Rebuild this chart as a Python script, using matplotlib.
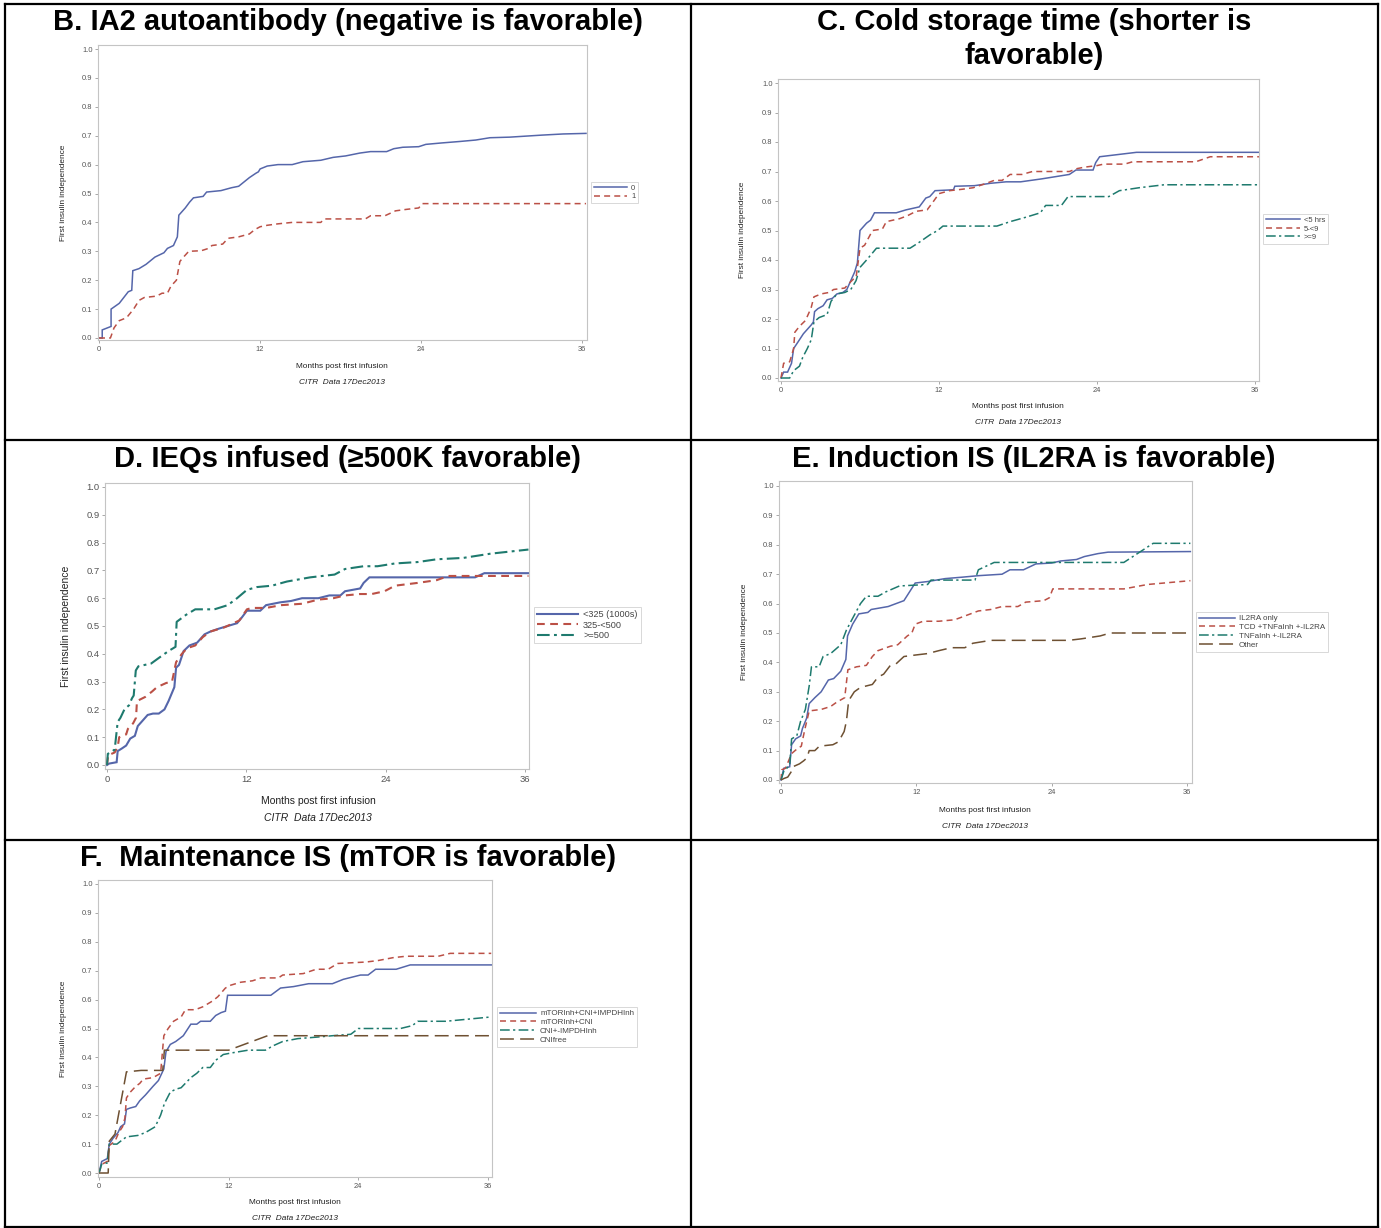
import matplotlib
matplotlib.use("Agg")
import matplotlib.pyplot as plt
from matplotlib.lines import Line2D

plt.rcParams['font.family'] = ['Liberation Sans', 'DejaVu Sans']
plt.rcParams['lines.scale_dashes'] = False

W, H = 1381, 1228

# ---------------- data (months, cumulative probability) ----------------
x_ticks = [0, 12, 24, 36]
y_ticks = [0.0, 0.1, 0.2, 0.3, 0.4, 0.5, 0.6, 0.7, 0.8, 0.9, 1.0]

# Panel B: IA2 autoantibody
b_labels = ["0", "1"]
b_neg = [(0, 0), (0.24, 0), (0.24, 0.028), (0.90, 0.04), (0.90, 0.10), (1.51, 0.12), (2.18, 0.16), (2.44, 0.165),
         (2.52, 0.233), (2.98, 0.24), (3.51, 0.255), (4.17, 0.28), (4.84, 0.295), (5.10, 0.31), (5.55, 0.32),
         (5.84, 0.35), (5.95, 0.425), (6.43, 0.45), (6.75, 0.47), (7.04, 0.485), (7.76, 0.49), (8.02, 0.505),
         (9.09, 0.51), (9.88, 0.52), (10.41, 0.525), (10.81, 0.54), (11.21, 0.555), (11.69, 0.57), (11.88, 0.575),
         (12.01, 0.585), (12.54, 0.595), (13.34, 0.60), (14.40, 0.60), (15.20, 0.61), (16.53, 0.615), (17.45, 0.625),
         (18.38, 0.63), (19.45, 0.64), (20.24, 0.645), (21.44, 0.645), (21.97, 0.655), (22.64, 0.66), (23.83, 0.662),
         (24.36, 0.67), (25.56, 0.675), (26.89, 0.68), (28.08, 0.685), (29.14, 0.693), (30.61, 0.695), (33.0, 0.702),
         (34.59, 0.706), (36.3, 0.708)]
b_pos = [(0, 0), (0.85, 0), (1.12, 0.035), (1.51, 0.06), (2.05, 0.07), (2.58, 0.10), (2.98, 0.13), (3.37, 0.14),
         (4.30, 0.145), (4.70, 0.155), (5.10, 0.155), (5.37, 0.18), (5.77, 0.20), (6.03, 0.265), (6.30, 0.28),
         (6.69, 0.30), (7.62, 0.302), (8.16, 0.31), (8.42, 0.32), (9.22, 0.325), (9.62, 0.345), (10.41, 0.35),
         (11.21, 0.36), (11.61, 0.375), (12.01, 0.385), (12.54, 0.39), (13.34, 0.395), (14.40, 0.40), (16.53, 0.40),
         (16.79, 0.412), (19.85, 0.412), (20.24, 0.423), (21.31, 0.423), (22.10, 0.44), (22.90, 0.445),
         (23.83, 0.45), (24.10, 0.465), (36.3, 0.465)]

# Panel C: cold storage time
c_labels = ["<5 hrs", "5-<9", ">=9"]
c_lt5 = [(0, 0), (0.2, 0.02), (0.5, 0.02), (0.8, 0.05), (0.96, 0.10), (1.26, 0.12), (1.7, 0.15), (2.3, 0.18),
         (2.46, 0.19), (2.55, 0.225), (2.8, 0.235), (3.2, 0.245), (3.5, 0.265), (3.9, 0.27), (4.25, 0.285),
         (4.7, 0.29), (5.0, 0.30), (5.3, 0.33), (5.6, 0.36), (5.8, 0.39), (6.0, 0.50), (6.2, 0.51), (6.5, 0.525),
         (6.8, 0.535), (7.1, 0.56), (8.75, 0.56), (9.5, 0.57), (10.5, 0.58), (11.0, 0.61), (11.3, 0.615),
         (11.7, 0.635), (13.1, 0.638), (13.2, 0.65), (14.7, 0.652), (15.9, 0.66), (17.1, 0.665), (18.2, 0.665),
         (19.8, 0.675), (21.9, 0.69), (22.4, 0.705), (23.7, 0.705), (23.9, 0.73), (24.2, 0.75), (27.0, 0.765),
         (36.3, 0.765)]
c_5to9 = [(0, 0), (0.2, 0.05), (0.66, 0.055), (0.96, 0.10), (1.05, 0.155), (1.4, 0.175), (1.86, 0.195),
          (2.16, 0.225), (2.3, 0.24), (2.5, 0.275), (3.05, 0.285), (3.65, 0.29), (4.0, 0.30), (4.85, 0.305),
          (5.15, 0.32), (5.5, 0.335), (5.7, 0.34), (6.0, 0.44), (6.35, 0.45), (6.65, 0.475), (6.95, 0.50),
          (7.7, 0.505), (8.0, 0.53), (9.0, 0.54), (9.6, 0.55), (10.25, 0.565), (11.1, 0.57), (11.6, 0.60),
          (12.0, 0.625), (12.8, 0.635), (13.8, 0.64), (14.6, 0.645), (15.6, 0.66), (16.2, 0.67), (16.8, 0.67),
          (17.4, 0.69), (18.3, 0.69), (19.1, 0.70), (21.9, 0.70), (22.5, 0.71), (23.1, 0.715), (24.0, 0.72),
          (24.5, 0.725), (26.1, 0.725), (26.7, 0.733), (31.5, 0.733), (32.6, 0.75), (36.3, 0.75)]
c_ge9 = [(0, 0), (0.66, 0), (0.96, 0.025), (1.4, 0.04), (1.65, 0.07), (2.0, 0.10), (2.3, 0.13), (2.5, 0.19),
         (2.9, 0.205), (3.5, 0.215), (3.8, 0.26), (4.25, 0.285), (4.85, 0.29), (5.3, 0.30), (5.7, 0.33),
         (6.0, 0.375), (6.5, 0.40), (7.25, 0.44), (9.8, 0.44), (10.5, 0.46), (11.3, 0.485), (11.9, 0.50),
         (12.3, 0.515), (16.4, 0.515), (17.4, 0.53), (18.6, 0.545), (19.7, 0.56), (20.1, 0.585), (21.3, 0.585),
         (21.8, 0.615), (24.9, 0.615), (25.7, 0.635), (27.2, 0.645), (29.1, 0.655), (36.3, 0.655)]

# Panel D: IEQs infused
d_labels = ["<325 (1000s)", "325-<500", ">=500"]
d_lt325 = [(0, 0), (0.17, 0.005), (0.83, 0.01), (0.92, 0.05), (1.3, 0.06), (1.65, 0.07), (2.0, 0.095),
           (2.4, 0.105), (2.65, 0.14), (2.97, 0.155), (3.5, 0.18), (3.96, 0.185), (4.46, 0.185), (4.95, 0.20),
           (5.3, 0.23), (5.8, 0.28), (5.95, 0.35), (6.2, 0.36), (6.6, 0.41), (7.1, 0.43), (7.76, 0.44),
           (8.4, 0.47), (8.9, 0.48), (9.6, 0.49), (10.4, 0.50), (11.2, 0.51), (11.6, 0.53), (12.05, 0.555),
           (13.2, 0.555), (13.7, 0.575), (14.9, 0.585), (15.85, 0.59), (16.8, 0.60), (18.2, 0.60), (19.15, 0.61),
           (20.1, 0.61), (20.5, 0.625), (21.8, 0.635), (22.1, 0.655), (22.6, 0.675), (31.7, 0.675), (32.5, 0.69),
           (36.3, 0.69)]
d_325to500 = [(0, 0), (0.1, 0.035), (0.66, 0.045), (0.92, 0.065), (1.05, 0.10), (1.65, 0.11), (1.8, 0.13),
              (2.25, 0.15), (2.5, 0.17), (2.58, 0.23), (3.3, 0.245), (3.9, 0.265), (4.3, 0.28), (5.1, 0.295),
              (5.6, 0.30), (5.95, 0.37), (6.45, 0.40), (6.9, 0.42), (7.6, 0.43), (8.25, 0.46), (8.9, 0.48),
              (10.1, 0.495), (11.4, 0.52), (12.05, 0.56), (12.5, 0.565), (13.7, 0.565), (15.0, 0.575),
              (16.8, 0.58), (18.2, 0.595), (19.5, 0.60), (20.5, 0.61), (21.8, 0.615), (22.8, 0.615),
              (23.9, 0.625), (24.8, 0.645), (26.75, 0.655), (28.4, 0.665), (29.4, 0.68), (36.3, 0.68)]
d_ge500 = [(0, 0), (0.07, 0.04), (0.66, 0.055), (0.92, 0.155), (1.16, 0.17), (1.5, 0.20), (1.9, 0.215),
           (2.15, 0.24), (2.3, 0.25), (2.48, 0.34), (2.7, 0.355), (3.8, 0.365), (4.46, 0.385), (5.3, 0.41),
           (5.9, 0.425), (6.0, 0.515), (6.8, 0.54), (7.6, 0.56), (9.25, 0.56), (10.4, 0.575), (11.2, 0.60),
           (12.05, 0.63), (12.9, 0.64), (14.2, 0.645), (15.5, 0.66), (17.5, 0.675), (19.6, 0.685), (20.5, 0.705),
           (22.1, 0.715), (23.3, 0.715), (24.8, 0.725), (26.75, 0.73), (28.4, 0.74), (30.7, 0.745), (33.0, 0.76),
           (36.3, 0.775)]

# Panel E: induction IS
e_labels = ["IL2RA only", "TCD +TNFaInh +-IL2RA", "TNFaInh +-IL2RA", "Other"]
e_il2ra = [(0, 0), (0.25, 0.04), (0.77, 0.045), (0.94, 0.12), (1.3, 0.14), (1.74, 0.15), (1.9, 0.175),
           (2.27, 0.21), (2.5, 0.26), (3.0, 0.28), (3.56, 0.30), (4.2, 0.34), (4.67, 0.345), (5.3, 0.37),
           (5.75, 0.41), (5.9, 0.49), (6.35, 0.53), (6.9, 0.565), (7.7, 0.57), (8.0, 0.58), (9.5, 0.59),
           (10.9, 0.61), (11.4, 0.64), (11.9, 0.67), (13.0, 0.675), (14.55, 0.685), (16.1, 0.69), (17.5, 0.695),
           (19.6, 0.70), (20.3, 0.715), (21.5, 0.715), (22.6, 0.735), (24.0, 0.738), (24.8, 0.745), (26.2, 0.75),
           (26.9, 0.76), (28.1, 0.77), (29.0, 0.775), (36.3, 0.777)]
e_tcd = [(0, 0), (0.07, 0.035), (0.4, 0.04), (0.94, 0.09), (1.4, 0.105), (1.8, 0.115), (2.1, 0.17), (2.5, 0.235),
         (3.56, 0.24), (4.4, 0.25), (4.95, 0.265), (5.65, 0.28), (5.93, 0.375), (6.7, 0.385), (7.57, 0.39),
         (8.1, 0.42), (8.6, 0.44), (9.7, 0.455), (10.35, 0.46), (11.2, 0.49), (11.6, 0.50), (11.9, 0.53),
         (12.6, 0.54), (14.0, 0.54), (15.4, 0.545), (16.1, 0.555), (16.8, 0.565), (17.5, 0.575), (18.6, 0.58),
         (19.6, 0.59), (21.0, 0.59), (21.7, 0.605), (23.3, 0.61), (23.8, 0.62), (24.1, 0.65), (30.4, 0.65),
         (32.5, 0.665), (36.3, 0.678)]
e_tnf = [(0, 0), (0.25, 0.03), (0.77, 0.05), (0.94, 0.14), (1.4, 0.15), (1.74, 0.20), (2.16, 0.24), (2.5, 0.32),
         (2.7, 0.385), (3.38, 0.385), (3.73, 0.42), (4.4, 0.43), (5.3, 0.46), (5.8, 0.51), (6.35, 0.55),
         (7.05, 0.60), (7.57, 0.625), (8.6, 0.625), (9.3, 0.64), (10.5, 0.66), (13.0, 0.665), (13.3, 0.68),
         (17.2, 0.68), (17.5, 0.715), (18.9, 0.74), (30.4, 0.74), (31.8, 0.775), (33.0, 0.805), (36.3, 0.805)]
e_other = [(0, 0), (0.25, 0.005), (0.6, 0.01), (0.94, 0.03), (1.05, 0.045), (1.64, 0.055), (2.0, 0.065),
           (2.3, 0.075), (2.5, 0.10), (3.0, 0.10), (3.4, 0.115), (4.6, 0.12), (5.1, 0.13), (5.6, 0.165),
           (5.8, 0.20), (6.0, 0.27), (6.5, 0.30), (7.05, 0.315), (8.1, 0.325), (8.6, 0.35), (9.1, 0.36),
           (9.7, 0.39), (10.2, 0.395), (10.9, 0.42), (11.9, 0.425), (13.0, 0.43), (14.0, 0.44), (15.1, 0.45),
           (16.3, 0.45), (17.0, 0.465), (18.6, 0.475), (25.5, 0.475), (26.6, 0.48), (28.3, 0.49), (29.2, 0.50),
           (36.3, 0.50)]

# Panel F: maintenance IS
f_labels = ["mTORInh+CNI+IMPDHInh", "mTORInh+CNI", "CNI+-IMPDHInh", "CNIfree"]
f_mtor_cni_impdh = [(0, 0), (0.25, 0.04), (0.77, 0.05), (0.95, 0.10), (1.3, 0.12), (1.76, 0.14), (2.0, 0.16),
                    (2.36, 0.17), (2.54, 0.22), (2.9, 0.225), (3.4, 0.23), (3.77, 0.25), (4.3, 0.27), (5.0, 0.30),
                    (5.5, 0.32), (6.0, 0.36), (6.2, 0.42), (6.6, 0.445), (7.1, 0.455), (7.8, 0.475), (8.5, 0.515),
                    (9.05, 0.515), (9.4, 0.525), (10.3, 0.525), (10.8, 0.545), (11.3, 0.555), (11.7, 0.56),
                    (11.9, 0.615), (15.9, 0.615), (16.8, 0.64), (18.0, 0.645), (19.4, 0.655), (21.6, 0.655),
                    (22.6, 0.67), (24.2, 0.685), (24.9, 0.685), (25.6, 0.705), (27.5, 0.705), (28.8, 0.72),
                    (36.3, 0.72)]
f_mtor_cni = [(0, 0), (0.25, 0.03), (0.77, 0.04), (0.95, 0.095), (1.48, 0.11), (1.83, 0.14), (2.18, 0.16),
              (2.4, 0.19), (2.54, 0.26), (2.9, 0.28), (3.4, 0.30), (3.77, 0.31), (4.1, 0.325), (5.0, 0.33),
              (5.7, 0.345), (6.0, 0.475), (6.4, 0.50), (6.9, 0.525), (7.6, 0.54), (8.0, 0.565), (8.9, 0.565),
              (9.6, 0.575), (10.5, 0.595), (11.0, 0.61), (11.7, 0.64), (12.2, 0.65), (13.1, 0.66), (14.2, 0.665),
              (15.0, 0.675), (16.6, 0.675), (17.0, 0.685), (18.9, 0.69), (20.1, 0.705), (21.2, 0.705),
              (22.1, 0.725), (24.7, 0.73), (25.8, 0.735), (27.2, 0.745), (28.4, 0.75), (31.4, 0.75),
              (32.5, 0.76), (36.3, 0.76)]
f_cni_impdh = [(0, 0), (0.25, 0.03), (0.77, 0.035), (0.95, 0.10), (1.66, 0.10), (2.0, 0.11), (2.54, 0.125),
               (3.6, 0.13), (4.3, 0.14), (5.2, 0.16), (5.7, 0.20), (6.05, 0.24), (6.6, 0.28), (7.1, 0.29),
               (7.6, 0.295), (8.5, 0.33), (9.05, 0.345), (9.6, 0.365), (10.3, 0.365), (10.8, 0.39), (11.5, 0.41),
               (12.2, 0.415), (13.8, 0.425), (15.4, 0.425), (16.1, 0.44), (17.0, 0.455), (18.4, 0.465),
               (20.1, 0.47), (21.6, 0.475), (23.3, 0.48), (24.0, 0.50), (27.9, 0.50), (29.0, 0.51), (29.5, 0.525),
               (32.1, 0.525), (36.3, 0.54)]
f_cnifree = [(0, 0), (0.85, 0), (0.95, 0.11), (1.48, 0.135), (2.54, 0.35), (3.9, 0.355), (5.9, 0.355),
             (6.05, 0.425), (12.0, 0.425), (13.8, 0.45), (15.6, 0.475), (36.3, 0.475)]

# ---------------- styles ----------------
colors = ['#5566aa', '#bb5046', '#1e7a6e', '#6e5032']


def dashes_for(i, s):
    if i == 0:
        return None
    if i == 1:
        return (4.3 * s, 3.0 * s)
    if i == 2:
        return (7.0 * s, 2.4 * s, 1.6 * s, 2.4 * s)
    return (10.0 * s, 4.5 * s)


fig = plt.figure(figsize=(W / 100, H / 100), dpi=100)


def px_axes(l, t, r, b):
    return fig.add_axes([l / W, 1 - b / H, (r - l) / W, (b - t) / H])


panels = [
    dict(title="B. IA2 autoantibody (negative is favorable)", tx=348, ty=22,
         frame=(98, 45, 587, 340), x0=99, x36=582, y1=49, y0=338,
         series=[b_neg, b_pos], labels=b_labels, fs=5.4, lfs=5.4, lw=1.1, ds=1.0,
         leg=(591, 182), ylab_x=64, xlab=(342, 366), citr=(342, 382)),
    dict(title="C. Cold storage time (shorter is\nfavorable)", tx=1034, ty=39,
         frame=(778, 79, 1259, 381), x0=781, x36=1255, y1=83, y0=378,
         series=[c_lt5, c_5to9, c_ge9], labels=c_labels, fs=5.4, lfs=5.5, lw=1.1, ds=1.0,
         leg=(1263, 214), ylab_x=743, xlab=(1018, 407), citr=(1018, 423)),
    dict(title="D. IEQs infused (\u2265500K favorable)", tx=348, ty=459,
         frame=(105, 483, 529, 769), x0=107, x36=525, y1=487, y0=765,
         series=[d_lt325, d_325to500, d_ge500], labels=d_labels, fs=6.8, lfs=6.6, lw=1.5, ds=1.3,
         leg=(534, 607), ylab_x=66, xlab=(318, 801), citr=(318, 818)),
    dict(title="E. Induction IS (IL2RA is favorable)", tx=1034, ty=459,
         frame=(779, 481, 1192, 783), x0=781, x36=1187, y1=486, y0=780,
         series=[e_il2ra, e_tcd, e_tnf, e_other], labels=e_labels, fs=5.4, lfs=5.8, lw=1.1, ds=1.0,
         leg=(1196, 612), ylab_x=744, xlab=(985, 810), citr=(985, 826)),
    dict(title="F.  Maintenance IS (mTOR is favorable)", tx=348, ty=858,
         frame=(98, 880, 492, 1177), x0=99, x36=488, y1=884, y0=1173,
         series=[f_mtor_cni_impdh, f_mtor_cni, f_cni_impdh, f_cnifree], labels=f_labels, fs=5.4, lfs=5.8,
         lw=1.1, ds=1.0, leg=(497, 1007), ylab_x=64, xlab=(295, 1202), citr=(295, 1218)),
]

for p in panels:
    l, t, r, b = p['frame']
    ax = px_axes(l, t, r, b)
    xs = (p['x36'] - p['x0']) / 36.0
    ys = (p['y0'] - p['y1']) / 1.0
    ax.set_xlim((l - p['x0']) / xs, (r - p['x0']) / xs)
    ax.set_ylim((p['y0'] - b) / ys, (p['y0'] - t) / ys)
    handles = []
    for i, ser in enumerate(p['series']):
        xv = [q[0] for q in ser]
        yv = [q[1] for q in ser]
        ln, = ax.plot(xv, yv, color=colors[i], lw=p['lw'], solid_joinstyle='miter', clip_on=True)
        d = dashes_for(i, p['ds'])
        if d is not None:
            ln.set_dashes(d)
        handles.append(ln)
    ax.set_xticks(x_ticks)
    ax.set_xticklabels([str(v) for v in x_ticks])
    ax.set_yticks(y_ticks)
    ax.set_yticklabels(["%.1f" % v for v in y_ticks])
    for s in ax.spines.values():
        s.set_color('#c4c4c4')
        s.set_linewidth(0.8)
    ax.tick_params(axis='both', length=2.5, width=0.6, color='#9a9a9a', labelcolor='#555555',
                   labelsize=p['fs'], pad=1.5)
    fs_lab = p['fs'] * 1.1
    fig.text(p['ylab_x'] / W, 1 - ((t + b) / 2) / H, "First insulin independence", rotation=90,
             ha='center', va='center', fontsize=fs_lab, color='#222222')
    fig.text(p['xlab'][0] / W, 1 - p['xlab'][1] / H, "Months post first infusion",
             ha='center', va='center', fontsize=fs_lab, color='#222222')
    fig.text(p['citr'][0] / W, 1 - p['citr'][1] / H, "CITR  Data 17Dec2013", style='italic',
             ha='center', va='center', fontsize=fs_lab, color='#222222')
    leg = ax.legend(handles, p['labels'], loc='upper left',
                    bbox_to_anchor=(p['leg'][0] / W, 1 - p['leg'][1] / H), bbox_transform=fig.transFigure,
                    borderaxespad=0, fontsize=p['lfs'], frameon=True, fancybox=False,
                    edgecolor='#cfcfcf', handlelength=4.5, handletextpad=0.5, labelspacing=0.15,
                    borderpad=0.35)
    leg.get_frame().set_linewidth(0.7)
    for txt in leg.get_texts():
        txt.set_color('#444444')
    fig.text(p['tx'] / W, 1 - p['ty'] / H, p['title'], ha='center', va='center', fontsize=21,
             fontweight='bold', color='black', linespacing=1.27)

# table grid
grid_kw = dict(color='black', lw=1.6, transform=fig.transFigure, clip_on=False)


def hline(y, x1, x2):
    fig.add_artist(Line2D([x1 / W, x2 / W], [1 - y / H, 1 - y / H], **grid_kw))


def vline(x, y1, y2):
    fig.add_artist(Line2D([x / W, x / W], [1 - y1 / H, 1 - y2 / H], **grid_kw))


hline(3.5, 4.5, 1377.5)
hline(440, 4.5, 1377.5)
hline(840, 4.5, 1377.5)
hline(1226.5, 4.5, 1377.5)
vline(4.5, 3.5, 1226.5)
vline(1377.5, 3.5, 1226.5)
vline(691, 3.5, 1226.5)

fig.savefig("out.png", dpi=100)
